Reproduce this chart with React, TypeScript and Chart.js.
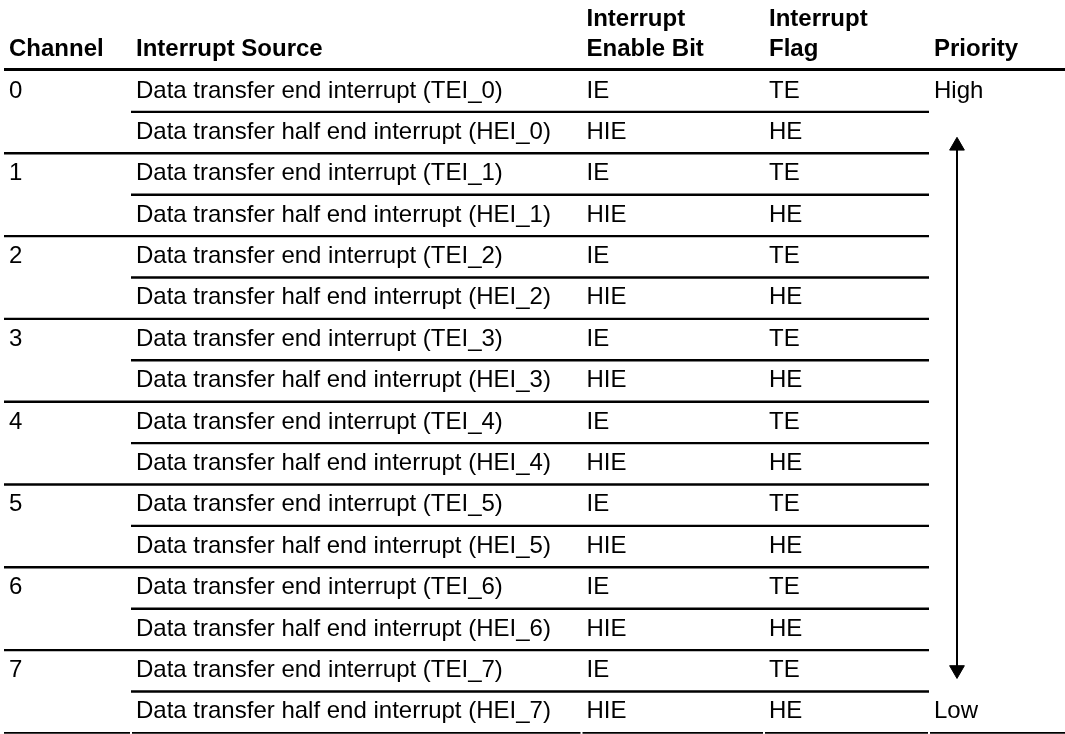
import React, { useEffect, useRef } from 'react';
import { Chart, registerables } from 'chart.js';

Chart.register(...registerables);

// ---------- table content ----------
const channels = ['0', '1', '2', '3', '4', '5', '6', '7'];

const interruptSources = [
  'Data transfer end interrupt (TEI_0)',
  'Data transfer half end interrupt (HEI_0)',
  'Data transfer end interrupt (TEI_1)',
  'Data transfer half end interrupt (HEI_1)',
  'Data transfer end interrupt (TEI_2)',
  'Data transfer half end interrupt (HEI_2)',
  'Data transfer end interrupt (TEI_3)',
  'Data transfer half end interrupt (HEI_3)',
  'Data transfer end interrupt (TEI_4)',
  'Data transfer half end interrupt (HEI_4)',
  'Data transfer end interrupt (TEI_5)',
  'Data transfer half end interrupt (HEI_5)',
  'Data transfer end interrupt (TEI_6)',
  'Data transfer half end interrupt (HEI_6)',
  'Data transfer end interrupt (TEI_7)',
  'Data transfer half end interrupt (HEI_7)',
];

const enableBits = [
  'IE', 'HIE', 'IE', 'HIE', 'IE', 'HIE', 'IE', 'HIE',
  'IE', 'HIE', 'IE', 'HIE', 'IE', 'HIE', 'IE', 'HIE',
];

const interruptFlags = [
  'TE', 'HE', 'TE', 'HE', 'TE', 'HE', 'TE', 'HE',
  'TE', 'HE', 'TE', 'HE', 'TE', 'HE', 'TE', 'HE',
];

const priorityLabels = [
  'High', '', '', '', '', '', '', '',
  '', '', '', '', '', '', '', 'Low',
];

const headerLines = [
  ['Channel'],
  ['Interrupt Source'],
  ['Interrupt', 'Enable Bit'],
  ['Interrupt', 'Flag'],
  ['Priority'],
];

// priority arrow: from just below "High" row to just above "Low" row (row units)
const arrowRows = [1.82, 14.48];

// ---------- layout ----------
const W = 1065;
const H = 734;
const COL = [4, 131, 581.5, 764, 929, 1065];
const PAD = 5;
const ARROW_X = 957;
const Y_MIN = -1.703;
const Y_MAX = 16.027;
const FONT = '"Liberation Sans", Arial, Helvetica, sans-serif';

const tablePlugin = {
  id: 'tablePlugin',
  beforeDatasetsDraw(chart: any) {
    const { ctx, scales } = chart;
    const xs = scales.x;
    const ys = scales.y;
    const px = (v: number) => xs.getPixelForValue(v);
    const py = (v: number) => ys.getPixelForValue(v);
    ctx.save();
    ctx.strokeStyle = '#000';
    ctx.lineCap = 'butt';
    const hline = (x0: number, x1: number, yy: number, w: number) => {
      ctx.lineWidth = w;
      ctx.beginPath();
      ctx.moveTo(px(x0), yy);
      ctx.lineTo(px(x1), yy);
      ctx.stroke();
    };
    // header rule
    hline(COL[0], COL[5], py(0) - 1, 3.2);
    // row rules
    for (let k = 1; k < interruptSources.length; k++) {
      if (k % 2 === 0) hline(COL[0], COL[4], py(k), 2.4);
      else hline(COL[1], COL[4], py(k), 2.4);
    }
    // bottom rule (segmented per column)
    for (let c = 0; c < 5; c++) {
      const a = c === 0 ? COL[0] : COL[c] + 1;
      const b = c === 4 ? COL[5] : COL[c + 1] - 1;
      hline(a, b, py(interruptSources.length), 1.6);
    }

    ctx.fillStyle = '#000';
    ctx.textAlign = 'left';
    ctx.textBaseline = 'alphabetic';
    // header text
    ctx.font = 'bold 24px ' + FONT;
    const headBase = py(0) - 15;
    headerLines.forEach((lines, c) => {
      lines.forEach((t, j) => {
        ctx.fillText(t, px(COL[c] + PAD), headBase - (lines.length - 1 - j) * 29.5);
      });
    });
    // body text
    ctx.font = '24px ' + FONT;
    for (let r = 0; r < interruptSources.length; r++) {
      const base = py(r) + 27;
      if (r % 2 === 0) ctx.fillText(channels[r / 2], px(COL[0] + PAD), base);
      ctx.fillText(interruptSources[r], px(COL[1] + PAD), base);
      ctx.fillText(enableBits[r], px(COL[2] + PAD), base);
      ctx.fillText(interruptFlags[r], px(COL[3] + PAD), base);
      if (priorityLabels[r]) ctx.fillText(priorityLabels[r], px(COL[4] + PAD), base);
    }
    ctx.restore();
  },
};

export default function App() {
  const ref = useRef<HTMLCanvasElement | null>(null);
  useEffect(() => {
    document.body.style.margin = '0';
    const canvas = ref.current;
    if (!canvas) return;
    const chart = new Chart(canvas, {
      type: 'scatter',
      data: {
        datasets: [
          {
            data: arrowRows.map((r) => ({ x: ARROW_X, y: r })),
            showLine: true,
            borderColor: '#000',
            backgroundColor: '#000',
            borderWidth: 2,
            pointStyle: 'triangle',
            pointRadius: 8.5,
            pointBorderWidth: 1,
            rotation: [0, 180] as any,
            clip: false,
          } as any,
        ],
      },
      options: {
        animation: false,
        responsive: false,
        devicePixelRatio: 1,
        events: [],
        layout: { padding: 0, autoPadding: false },
        plugins: { legend: { display: false }, tooltip: { enabled: false } },
        scales: {
          x: { type: 'linear', min: 0, max: W, display: false },
          y: { type: 'linear', min: Y_MIN, max: Y_MAX, reverse: true, display: false },
        },
      },
      plugins: [tablePlugin],
    });
    return () => chart.destroy();
  }, []);
  return (
    <div style={{ width: W, height: H, background: '#fff' }}>
      <canvas ref={ref} width={W} height={H} style={{ display: 'block' }} />
    </div>
  );
}
